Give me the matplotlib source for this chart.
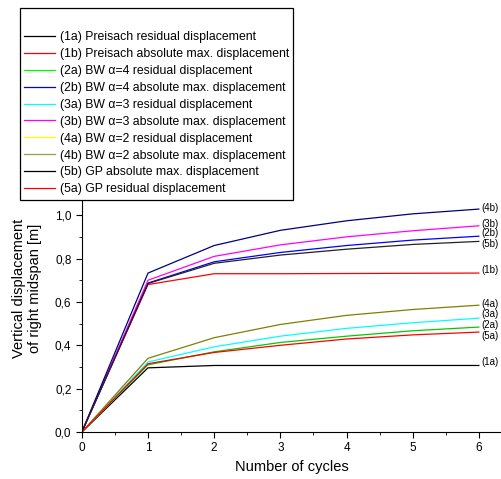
import numpy as np
import matplotlib.pyplot as plt
from matplotlib.lines import Line2D
from matplotlib.ticker import MultipleLocator, FuncFormatter

plt.rcParams['font.family'] = ['Liberation Sans', 'DejaVu Sans']

cycles = [0, 1, 2, 3, 4, 5, 6]
s1a = [0, 0.296, 0.307, 0.307, 0.307, 0.307, 0.307]
s1b = [0, 0.680, 0.730, 0.730, 0.731, 0.732, 0.733]
s2a = [0, 0.310, 0.370, 0.413, 0.442, 0.467, 0.484]
s2b = [0, 0.687, 0.785, 0.828, 0.860, 0.885, 0.903]
s3a = [0, 0.323, 0.393, 0.442, 0.478, 0.504, 0.525]
s3b = [0, 0.700, 0.810, 0.863, 0.900, 0.928, 0.951]
s4a = [0, 0.340, 0.435, 0.496, 0.538, 0.565, 0.585]
s4b = [0, 0.733, 0.860, 0.930, 0.974, 1.006, 1.028]
s5b = [0, 0.685, 0.778, 0.816, 0.843, 0.865, 0.879]
s5a = [0, 0.315, 0.367, 0.400, 0.429, 0.448, 0.461]

names = ['(1a)', '(1b)', '(2a)', '(2b)', '(3a)', '(3b)', '(4a)', '(4b)', '(5b)', '(5a)']
series = [s1a, s1b, s2a, s2b, s3a, s3b, s4a, s4b, s5b, s5a]
plot_colors = ['black', 'red', '#00cc00', 'blue', 'cyan', 'magenta', '#808000', '#000080', '#222222', 'red']
label_y = [0.322, 0.745, 0.492, 0.918, 0.545, 0.960, 0.590, 1.035, 0.868, 0.443]

legend_labels = ['(1a) Preisach residual displacement',
                 '(1b) Preisach absolute max. displacement',
                 '(2a) BW \u03b1=4 residual displacement',
                 '(2b) BW \u03b1=4 absolute max. displacement',
                 '(3a) BW \u03b1=3 residual displacement',
                 '(3b) BW \u03b1=3 absolute max. displacement',
                 '(4a) BW \u03b1=2 residual displacement',
                 '(4b) BW \u03b1=2 absolute max. displacement',
                 '(5b) GP absolute max. displacement',
                 '(5a) GP residual displacement']
legend_colors = ['black', 'red', '#00ff00', 'blue', 'cyan', 'magenta', 'yellow', '#a09a40', 'black', 'red']

fig = plt.figure(figsize=(5.02, 4.79), dpi=100)
ax = fig.add_axes([0.163, 0.098, 0.837, 0.883])

for ys, c, n, ly in zip(series, plot_colors, names, label_y):
    ax.plot(cycles, ys, color=c, lw=0.9)
    ax.text(6.04, ly, n, fontsize=7, va='center', ha='left')

ax.set_xlim(0, 6.35)
ax.set_ylim(0, 1.95)
ax.spines['top'].set_visible(False)
ax.spines['right'].set_visible(False)
ax.xaxis.set_major_locator(MultipleLocator(1))
ax.xaxis.set_minor_locator(MultipleLocator(0.5))
ax.yaxis.set_major_locator(MultipleLocator(0.2))
ax.yaxis.set_minor_locator(MultipleLocator(0.1))
ax.yaxis.set_major_formatter(FuncFormatter(lambda v, p: f'{v:.1f}'.replace('.', ',')))
ax.tick_params(labelsize=8.5, direction='out', length=4)
ax.tick_params(which='minor', length=2.5)
ax.set_xlabel('Number of cycles', fontsize=10.5)
ax.set_ylabel('Vertical displacement\nof right midspan [m]', fontsize=10.5, linespacing=1.15)
ax.yaxis.set_label_coords(-0.095, 0.34)

handles = [Line2D([], [], color=c, lw=0.9) for c in legend_colors]
leg = fig.legend(handles, legend_labels, loc='upper left', bbox_to_anchor=(0.04, 0.983),
                 fontsize=8.8, title=' ', title_fontsize=10, frameon=True, fancybox=False,
                 edgecolor='black', framealpha=1, handlelength=2.5, handletextpad=0.4,
                 labelspacing=0.4, borderpad=0.35, borderaxespad=0)
leg.get_frame().set_linewidth(0.9)

fig.savefig('out.png', dpi=100)
